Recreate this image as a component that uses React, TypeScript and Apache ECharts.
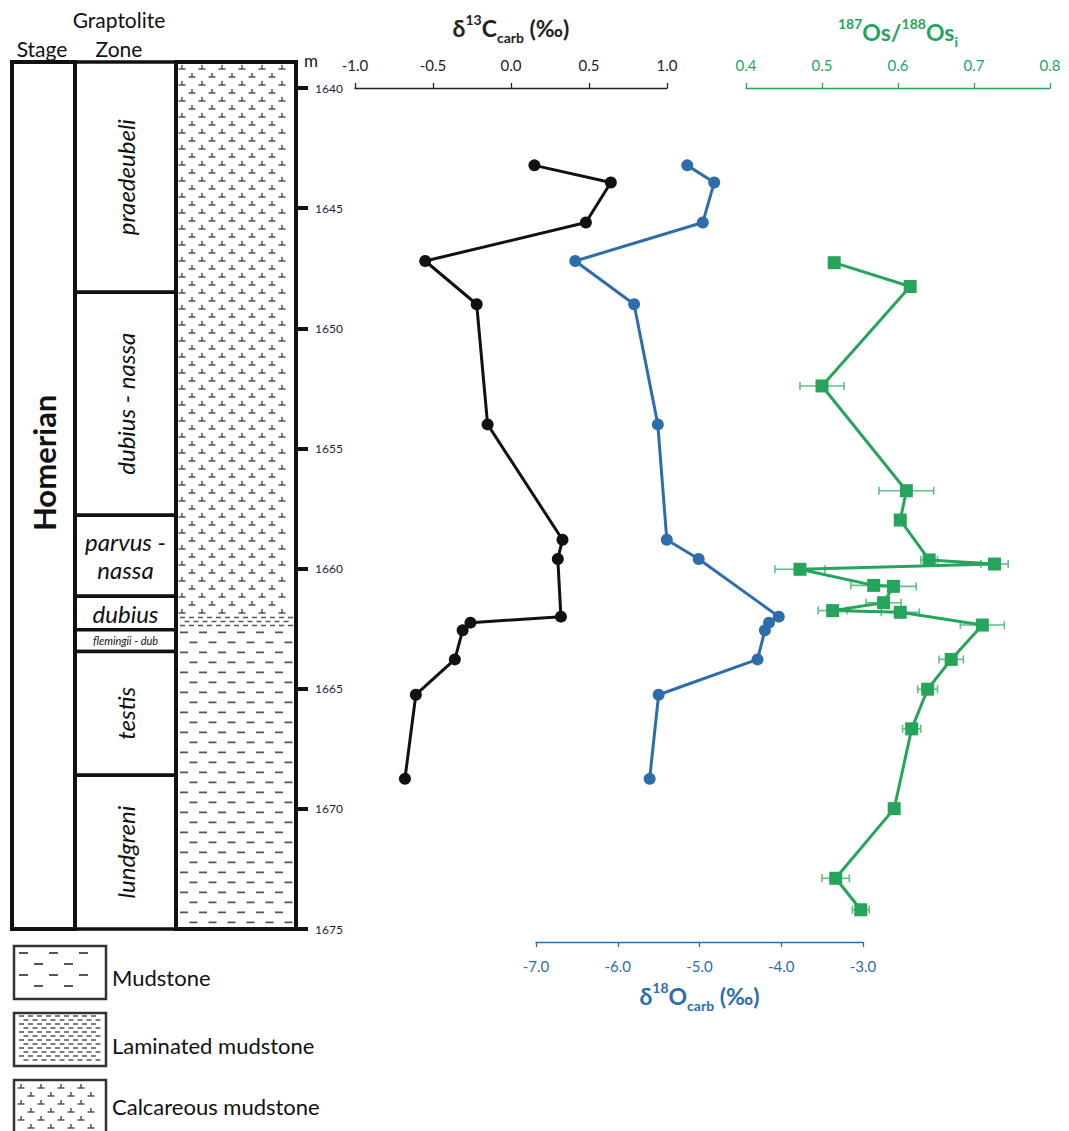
import React, { useEffect, useRef } from "react";
import * as echarts from "echarts";

// ---------------- DATA ----------------
const sampleDepth = [1643.22, 1643.93, 1645.6, 1647.2, 1649.0, 1654.0, 1658.8, 1659.6, 1662.0, 1662.25, 1662.57, 1663.78, 1665.25, 1668.75];
const d13C = [0.15, 0.64, 0.48, -0.55, -0.22, -0.15, 0.33, 0.3, 0.32, -0.26, -0.31, -0.36, -0.61, -0.68];
const d18O = [-5.15, -4.82, -4.96, -6.52, -5.8, -5.51, -5.4, -5.01, -4.03, -4.15, -4.2, -4.29, -5.5, -5.61];

const osDepth = [1647.27, 1648.26, 1652.4, 1656.76, 1657.98, 1659.64, 1659.81, 1660.03, 1660.7, 1660.74, 1661.42, 1661.75, 1661.82, 1662.35, 1663.78, 1665.02, 1666.67, 1669.99, 1672.89, 1674.2];
const osRatio = [0.516, 0.616, 0.5, 0.611, 0.603, 0.641, 0.727, 0.471, 0.568, 0.594, 0.581, 0.514, 0.603, 0.711, 0.67, 0.639, 0.618, 0.595, 0.518, 0.551];
const osErr = [0.003, 0.003, 0.029, 0.036, 0.006, 0.011, 0.018, 0.033, 0.03, 0.03, 0.023, 0.019, 0.025, 0.029, 0.016, 0.013, 0.012, 0.005, 0.018, 0.011];

const stageNames = ["Homerian"];
const stageTop = [1638.92];
const stageBottom = [1675];
const stageLabelDepth = [1655.6];

const zoneNames = ["praedeubeli", "dubius - nassa", "parvus -\nnassa", "dubius", "flemingii - dub", "testis", "lundgreni"];
const zoneTop = [1638.92, 1648.5, 1657.78, 1661.15, 1662.55, 1663.45, 1668.6];
const zoneBottom = [1648.5, 1657.78, 1661.15, 1662.55, 1663.45, 1668.6, 1675];

const lithTypes = ["calcareous", "laminated", "mudstone"];
const lithTop = [1638.92, 1661.95, 1662.45];
const lithBottom = [1661.95, 1662.45, 1675];

const legendLabels = ["Mudstone", "Laminated mudstone", "Calcareous mudstone"];
const legendTypes = ["mudstoneSparse", "laminated", "calcareous"];

const depthMin = 1640, depthMax = 1675, depthStep = 5;
const c13Min = -1, c13Max = 1, c13Step = 0.5;
const osMin = 0.4, osMax = 0.8, osStep = 0.1;
const o18Min = -7, o18Max = -3, o18Step = 1;

// ---------------- STYLE / LAYOUT ----------------
const FONT = "Lato, 'Open Sans', sans-serif";
const BLACK = "#111111";
const BLUE = "#2e6dab";
const GREEN = "#25a55b";
const GREEN_ERR = "#5fc088";
const MARK = "#555555";
const COL = { stageL: 0, stageR: 63, zoneL: 63, zoneR: 164, lithL: 164, lithR: 284 };
const LEGEND_BOX_TOP = [946, 1013, 1080];
const LEGEND_TEXT_Y = [977, 1045, 1106];

// ---------------- PATTERN SHAPES ----------------
const CalcMarks = echarts.graphic.extendShape({
  shape: { x: 0, y: 0, width: 0, height: 0 },
  buildPath(ctx: any, s: any) {
    let r = 0;
    for (let y = s.y + 7; y < s.y + s.height - 1; y += 8, r++) {
      const off = r % 2 ? 10 : 0;
      for (let x = s.x + 6 + off; x < s.x + s.width - 4; x += 20) {
        ctx.moveTo(x - 3.5, y);
        ctx.lineTo(x + 3.5, y);
        ctx.moveTo(x, y - 4);
        ctx.lineTo(x, y);
      }
    }
  },
});
const DashMarks = echarts.graphic.extendShape({
  shape: { x: 0, y: 0, width: 0, height: 0, dx: 19, dy: 10, len: 8, start: 5 },
  buildPath(ctx: any, s: any) {
    let r = 0;
    for (let y = s.y + s.start; y < s.y + s.height - 1; y += s.dy, r++) {
      const off = r % 2 ? s.dx / 2 : 0;
      for (let x = s.x + 4 + off; x + s.len < s.x + s.width - 2; x += s.dx) {
        ctx.moveTo(x, y);
        ctx.lineTo(x + s.len, y);
      }
    }
  },
});
echarts.graphic.registerShape("calcMarks", CalcMarks);
echarts.graphic.registerShape("dashMarks", DashMarks);

function patternEl(type: string, x: number, y: number, w: number, h: number): any {
  if (type === "calcareous") {
    return { type: "calcMarks", shape: { x, y, width: w, height: h }, style: { fill: null, stroke: MARK, lineWidth: 1.5 } };
  }
  if (type === "laminated") {
    return { type: "dashMarks", shape: { x, y, width: w, height: h, dx: 9, dy: 4, len: 5, start: 2 }, style: { fill: null, stroke: MARK, lineWidth: 1.5 } };
  }
  if (type === "mudstoneSparse") {
    return { type: "dashMarks", shape: { x, y, width: w, height: h, dx: 30, dy: 11, len: 9, start: 6 }, style: { fill: null, stroke: MARK, lineWidth: 1.8 } };
  }
  return { type: "dashMarks", shape: { x, y, width: w, height: h, dx: 19, dy: 10, len: 8, start: 5 }, style: { fill: null, stroke: MARK, lineWidth: 1.8 } };
}

function richName(color: string) {
  return {
    color,
    rich: {
      b: { fontSize: 23, fontWeight: "bold", fontFamily: FONT, color, lineHeight: 32, verticalAlign: "middle" },
      sup: { fontSize: 14, fontWeight: "bold", fontFamily: FONT, color, lineHeight: 14, verticalAlign: "top" },
      sub: { fontSize: 14, fontWeight: "bold", fontFamily: FONT, color, lineHeight: 14, verticalAlign: "bottom" },
    },
  };
}

function valueAxis(gridIndex: number, min: number, max: number, step: number, color: string, name: string, position: string, offset = 0, nameGap = 48) {
  return {
    type: "value",
    gridIndex,
    position,
    offset,
    min,
    max,
    interval: step,
    name,
    nameLocation: "middle",
    nameGap,
    nameTextStyle: richName(color),
    axisLine: { show: true, onZero: false, lineStyle: { color, width: 1.3 } },
    axisTick: { show: true, length: 5, lineStyle: { color, width: 1.3 } },
    axisLabel: { color, fontSize: 15, fontFamily: FONT, margin: 16, formatter: (v: number) => v.toFixed(1) },
    splitLine: { show: false },
  };
}

function hiddenY(gridIndex: number) {
  return { type: "value", gridIndex, inverse: true, min: depthMin, max: depthMax, show: false };
}

export default function App() {
  const ref = useRef<HTMLDivElement>(null);
  useEffect(() => {
    document.body.style.margin = "0";
    const chart = echarts.init(ref.current!, null, { renderer: "svg" });
    const gridTop = 88;
    const gridH = 841;
    const option: any = {
      animation: false,
      backgroundColor: "#ffffff",
      grid: [
        { left: 12, top: gridTop, width: 284, height: gridH },
        { left: 355, top: gridTop, width: 312, height: gridH },
        { left: 746, top: gridTop, width: 304, height: gridH },
        { left: 536, top: gridTop, width: 327, height: gridH },
      ],
      xAxis: [
        { type: "value", gridIndex: 0, min: 0, max: 284, show: false },
        valueAxis(1, c13Min, c13Max, c13Step, "#222222", "{b|δ}{sup|13}{b|C}{sub|carb}{b| (‰)}", "top", 0, 44),
        valueAxis(2, osMin, osMax, osStep, GREEN, "{sup|187}{b|Os/}{sup|188}{b|Os}{sub|i}", "top", 0, 40),
        valueAxis(3, o18Min, o18Max, o18Step, BLUE, "{b|δ}{sup|18}{b|O}{sub|carb}{b| (‰)}", "bottom", 13, 38),
      ],
      yAxis: [
        {
          type: "value",
          gridIndex: 0,
          inverse: true,
          min: depthMin,
          max: depthMax,
          interval: depthStep,
          position: "right",
          axisLine: { show: false, onZero: false },
          axisTick: { show: true, length: 12, lineStyle: { color: BLACK, width: 4 } },
          axisLabel: { color: "#1c1c3c", fontSize: 12, fontFamily: FONT, margin: 19, formatter: (v: number) => String(v) },
          splitLine: { show: false },
        },
        hiddenY(1),
        hiddenY(2),
        hiddenY(3),
      ],
      series: [
        {
          type: "custom",
          name: "Lithology",
          xAxisIndex: 0,
          yAxisIndex: 0,
          clip: false,
          silent: true,
          data: lithTypes.map((_, i) => [COL.lithL, lithTop[i], lithBottom[i]]),
          encode: { x: 0, y: [1, 2] },
          renderItem: (params: any, api: any) => {
            const i = params.dataIndex;
            const a = api.coord([COL.lithL, api.value(1)]);
            const b = api.coord([COL.lithR, api.value(2)]);
            return {
              type: "group",
              children: [
                { type: "rect", shape: { x: a[0], y: a[1], width: b[0] - a[0], height: b[1] - a[1] }, style: { fill: "#ffffff" } },
                patternEl(lithTypes[i], a[0], a[1], b[0] - a[0], b[1] - a[1]),
              ],
            };
          },
        },
        {
          type: "custom",
          name: "Zones",
          xAxisIndex: 0,
          yAxisIndex: 0,
          clip: false,
          silent: true,
          data: zoneNames.map((_, i) => [COL.zoneL, zoneTop[i], zoneBottom[i]]),
          encode: { x: 0, y: [1, 2] },
          renderItem: (params: any, api: any) => {
            const i = params.dataIndex;
            const top = api.value(1), bot = api.value(2);
            const a = api.coord([COL.zoneL, top]);
            const b = api.coord([COL.zoneR, bot]);
            const thick = bot - top;
            const rotate = thick > 4;
            const small = thick < 1;
            return {
              type: "group",
              children: [
                { type: "rect", shape: { x: a[0], y: a[1], width: b[0] - a[0], height: b[1] - a[1] }, style: { fill: "#ffffff", stroke: BLACK, lineWidth: 3.5 } },
                {
                  type: "text",
                  x: (a[0] + b[0]) / 2,
                  y: (a[1] + b[1]) / 2,
                  rotation: rotate ? Math.PI / 2 : 0,
                  style: {
                    text: zoneNames[i],
                    fontSize: small ? 11 : 24,
                    fontStyle: "italic",
                    fontFamily: FONT,
                    fill: BLACK,
                    align: "center",
                    verticalAlign: "middle",
                    lineHeight: 28,
                  },
                },
              ],
            };
          },
        },
        {
          type: "custom",
          name: "Stage",
          xAxisIndex: 0,
          yAxisIndex: 0,
          clip: false,
          silent: true,
          data: stageNames.map((_, i) => [COL.stageL, stageTop[i], stageBottom[i], stageLabelDepth[i]]),
          encode: { x: 0, y: [1, 2] },
          renderItem: (params: any, api: any) => {
            const i = params.dataIndex;
            const a = api.coord([COL.stageL, api.value(1)]);
            const b = api.coord([COL.stageR, api.value(2)]);
            const la = api.coord([COL.lithL, api.value(1)]);
            const lb = api.coord([COL.lithR, api.value(2)]);
            const lab = api.coord([(COL.stageL + COL.stageR) / 2, api.value(3)]);
            return {
              type: "group",
              children: [
                { type: "rect", shape: { x: a[0], y: a[1], width: b[0] - a[0], height: b[1] - a[1] }, style: { fill: null, stroke: BLACK, lineWidth: 4 } },
                { type: "rect", shape: { x: la[0], y: la[1], width: lb[0] - la[0], height: lb[1] - la[1] }, style: { fill: null, stroke: BLACK, lineWidth: 4 } },
                {
                  type: "text",
                  x: lab[0],
                  y: lab[1],
                  rotation: Math.PI / 2,
                  style: { text: stageNames[i], fontSize: 31, fontWeight: "bold", fontFamily: FONT, fill: BLACK, align: "center", verticalAlign: "middle" },
                },
              ],
            };
          },
        },
        {
          type: "line",
          name: "δ13C carb",
          xAxisIndex: 1,
          yAxisIndex: 1,
          data: d13C.map((v, i) => [v, sampleDepth[i]]),
          symbol: "circle",
          symbolSize: 12,
          lineStyle: { color: BLACK, width: 3 },
          itemStyle: { color: BLACK },
          clip: false,
        },
        {
          type: "line",
          name: "δ18O carb",
          xAxisIndex: 3,
          yAxisIndex: 3,
          data: d18O.map((v, i) => [v, sampleDepth[i]]),
          symbol: "circle",
          symbolSize: 12,
          lineStyle: { color: BLUE, width: 3 },
          itemStyle: { color: BLUE },
          clip: false,
        },
        {
          type: "custom",
          name: "Os error",
          xAxisIndex: 2,
          yAxisIndex: 2,
          clip: false,
          silent: true,
          data: osRatio.map((v, i) => [v, osDepth[i], osErr[i]]),
          encode: { x: 0, y: 1 },
          renderItem: (params: any, api: any) => {
            const v = api.value(0), d = api.value(1), e = api.value(2);
            const l = api.coord([v - e, d]);
            const r = api.coord([v + e, d]);
            const cap = 4;
            const st = { stroke: GREEN_ERR, lineWidth: 1.6 };
            return {
              type: "group",
              children: [
                { type: "line", shape: { x1: l[0], y1: l[1], x2: r[0], y2: r[1] }, style: st },
                { type: "line", shape: { x1: l[0], y1: l[1] - cap, x2: l[0], y2: l[1] + cap }, style: st },
                { type: "line", shape: { x1: r[0], y1: r[1] - cap, x2: r[0], y2: r[1] + cap }, style: st },
              ],
            };
          },
        },
        {
          type: "line",
          name: "187Os/188Os i",
          xAxisIndex: 2,
          yAxisIndex: 2,
          data: osRatio.map((v, i) => [v, osDepth[i]]),
          symbol: "rect",
          symbolSize: 13,
          lineStyle: { color: GREEN, width: 3 },
          itemStyle: { color: GREEN },
          clip: false,
        },
      ],
      graphic: [
        { type: "text", x: 119, y: 19, style: { text: "Graptolite", fontSize: 21, fontFamily: FONT, fill: BLACK, align: "center", verticalAlign: "middle" } },
        { type: "text", x: 119, y: 48, style: { text: "Zone", fontSize: 21, fontFamily: FONT, fill: BLACK, align: "center", verticalAlign: "middle" } },
        { type: "text", x: 42, y: 48, style: { text: "Stage", fontSize: 21, fontFamily: FONT, fill: BLACK, align: "center", verticalAlign: "middle" } },
        { type: "text", x: 311, y: 60, style: { text: "m", fontSize: 17, fontFamily: FONT, fill: BLACK, align: "center", verticalAlign: "middle" } },
        ...legendLabels.map((lab, i) => {
          const top = LEGEND_BOX_TOP[i];
          return {
            type: "group",
            children: [
              { type: "rect", shape: { x: 14, y: top, width: 92, height: 53 }, style: { fill: "#ffffff", stroke: "#333333", lineWidth: 2.5 } },
              patternEl(legendTypes[i], 15, top + 1, 90, 51),
              { type: "text", x: 112, y: LEGEND_TEXT_Y[i], style: { text: lab, fontSize: 22, fontFamily: FONT, fill: BLACK, align: "left", verticalAlign: "middle" } },
            ],
          };
        }),
      ],
    };
    chart.setOption(option);
    return () => chart.dispose();
  }, []);
  return <div ref={ref} style={{ position: "absolute", left: 0, top: 0, width: 1069, height: 1131 }} />;
}
